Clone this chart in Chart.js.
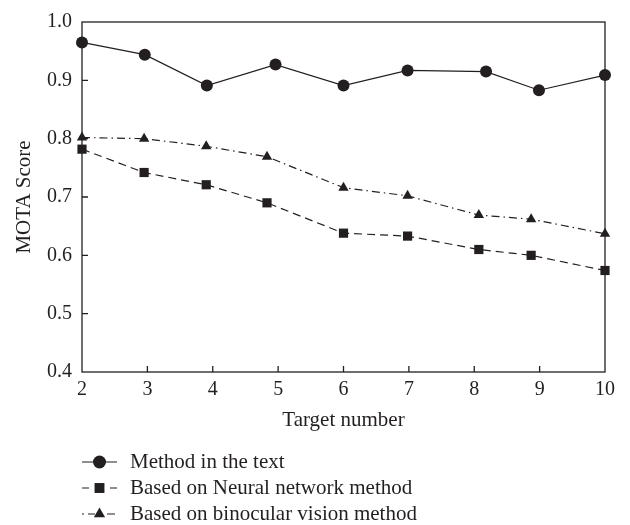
<!DOCTYPE html>
<html lang="en">
<head>
  <meta charset="UTF-8">
  <title>MOTA Score vs Target number</title>
  <style>
    body { margin: 0; background: #fff; }
    canvas { display: block; }
  </style>
  <script src="https://cdn.jsdelivr.net/npm/chart.js"></script>
</head>
<body>
  <canvas id="chart" width="630" height="525"></canvas>
  <script>
    // values
    const xMethod = [2, 2.96, 3.91, 4.96, 6, 6.98, 8.18, 8.99, 10];
    const xOthers = [2, 2.95, 3.9, 4.83, 6, 6.98, 8.07, 8.87, 10];
    const methodText = [0.965, 0.944, 0.891, 0.927, 0.891, 0.917, 0.915, 0.883, 0.909];
    const neuralNet  = [0.782, 0.742, 0.721, 0.690, 0.638, 0.633, 0.610, 0.600, 0.574];
    const binocular  = [0.802, 0.800, 0.787, 0.769, 0.716, 0.702, 0.669, 0.662, 0.637];
    const xTicks = [2, 3, 4, 5, 6, 7, 8, 9, 10];
    const yTicks = [0.4, 0.5, 0.6, 0.7, 0.8, 0.9, 1.0];
    const seriesNames = ['Method in the text', 'Based on Neural network method', 'Based on binocular vision method'];

    const ink = '#231f20';
    const serif = "'Liberation Serif', 'DejaVu Serif', serif";

    const pts = (xs, ys) => xs.map((x, i) => ({ x: x, y: ys[i] }));

    // legend line pieces (offsets from the legend's left edge)
    const legendPieces = [
      [[0, 35]],
      [[0, 7], [28, 35]],
      [[0, 2], [6, 13], [25, 33]]
    ];

    function marker(ctx, style, x, y, r) {
      ctx.beginPath();
      if (style === 'circle') {
        ctx.arc(x, y, r, 0, Math.PI * 2);
      } else if (style === 'rect') {
        const s = r * Math.SQRT1_2;
        ctx.rect(x - s, y - s, 2 * s, 2 * s);
      } else {
        let a = 0;
        ctx.moveTo(x + Math.sin(a) * r, y - Math.cos(a) * r);
        a += 2 * Math.PI / 3;
        ctx.lineTo(x + Math.sin(a) * r, y - Math.cos(a) * r);
        a += 2 * Math.PI / 3;
        ctx.lineTo(x + Math.sin(a) * r, y - Math.cos(a) * r);
        ctx.closePath();
      }
      ctx.fill();
    }

    const frame = {
      id: 'frame',
      beforeDatasetsDraw(chart) {
        const { ctx, chartArea: a, scales: { x, y } } = chart;
        ctx.save();
        ctx.strokeStyle = ink;
        ctx.lineWidth = 1.3;
        ctx.strokeRect(a.left, a.top, a.right - a.left, a.bottom - a.top);
        ctx.beginPath();
        xTicks.slice(1, -1).forEach(v => {
          const px = x.getPixelForValue(v);
          ctx.moveTo(px, a.bottom);
          ctx.lineTo(px, a.bottom - 6);
        });
        yTicks.slice(1, -1).forEach(v => {
          const py = y.getPixelForValue(v);
          ctx.moveTo(a.left, py);
          ctx.lineTo(a.left + 6, py);
        });
        ctx.stroke();
        ctx.restore();
      },
      afterDraw(chart) {
        const { ctx, chartArea: a } = chart;
        ctx.save();
        chart.data.datasets.forEach((ds, i) => {
          const cy = 462 + i * 26;
          const x0 = a.left;
          ctx.strokeStyle = ink;
          ctx.fillStyle = ink;
          ctx.lineWidth = 1.2;
          ctx.beginPath();
          legendPieces[i].forEach(p => {
            ctx.moveTo(x0 + p[0], cy);
            ctx.lineTo(x0 + p[1], cy);
          });
          ctx.stroke();
          marker(ctx, ds.pointStyle, x0 + 17.5, cy, ds.pointRadius + 0.5);
          ctx.font = '21px ' + serif;
          ctx.textBaseline = 'middle';
          ctx.textAlign = 'left';
          ctx.fillText(ds.label, x0 + 48, cy);
        });
        ctx.restore();
      }
    };

    const common = {
      borderColor: ink,
      backgroundColor: ink,
      pointBackgroundColor: ink,
      pointBorderWidth: 0,
      borderWidth: 1.2,
      tension: 0,
      clip: false
    };

    new Chart(document.getElementById('chart'), {
      type: 'line',
      data: {
        datasets: [
          Object.assign({}, common, { label: seriesNames[0], data: pts(xMethod, methodText), pointStyle: 'circle', pointRadius: 6 }),
          Object.assign({}, common, { label: seriesNames[1], data: pts(xOthers, neuralNet), pointStyle: 'rect', pointRadius: 6.5, borderDash: [8, 5] }),
          Object.assign({}, common, { label: seriesNames[2], data: pts(xOthers, binocular), pointStyle: 'triangle', pointRadius: 6, borderDash: [8, 4, 1.5, 4] })
        ]
      },
      options: {
        responsive: false,
        animation: false,
        layout: { padding: { top: 17, right: 25, bottom: 91, left: 0 } },
        plugins: { legend: { display: false }, tooltip: { enabled: false } },
        scales: {
          x: {
            type: 'linear',
            min: 2, max: 10,
            afterBuildTicks: s => { s.ticks = xTicks.map(v => ({ value: v })); },
            afterFit: s => { s.height = 62; },
            grid: { display: false, drawTicks: false },
            border: { display: false },
            ticks: { color: ink, padding: 6, font: { family: serif, size: 20 } },
            title: { display: true, text: 'Target number', color: ink, padding: { top: 0, bottom: 1 }, font: { family: serif, size: 21 } }
          },
          y: {
            min: 0.4, max: 1.0,
            afterBuildTicks: s => { s.ticks = yTicks.map(v => ({ value: v })); },
            afterFit: s => { s.width = 82; },
            grid: { display: false, drawTicks: false },
            border: { display: false },
            ticks: { color: ink, padding: 10, font: { family: serif, size: 20 }, callback: v => v.toFixed(1) },
            title: { display: true, text: 'MOTA Score', color: ink, padding: { top: 12, bottom: 0 }, font: { family: serif, size: 21 } }
          }
        }
      },
      plugins: [frame]
    });
  </script>
</body>
</html>
